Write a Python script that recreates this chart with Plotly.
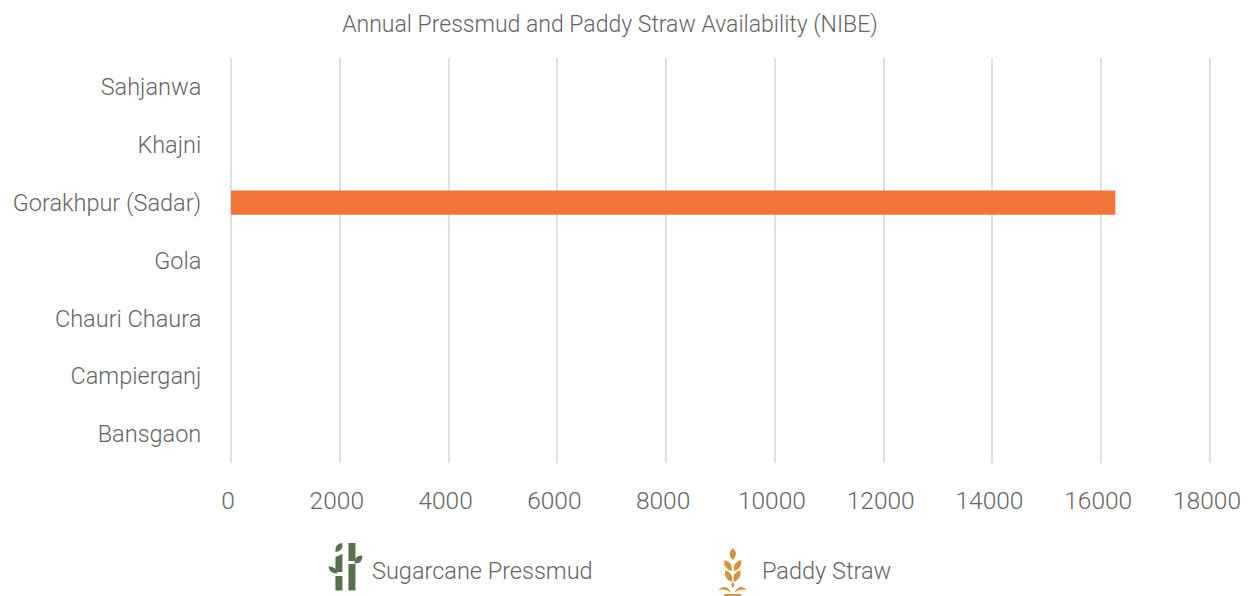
import plotly.graph_objects as go

# Sub-districts, listed bottom to top along the category axis
blocks = ["Bansgaon", "Campierganj", "Chauri Chaura", "Gola",
          "Gorakhpur (Sadar)", "Khajni", "Sahjanwa"]
pressmud = [0, 0, 0, 0, 0, 0, 0]
paddy_straw = [0, 0, 0, 0, 16260, 0, 0]
x_ticks = [0, 2000, 4000, 6000, 8000, 10000, 12000, 14000, 16000, 18000]

title_text = "Annual Pressmud and Paddy Straw Availability (NIBE)"
legend_names = ["Sugarcane Pressmud", "Paddy Straw"]

WIDTH, HEIGHT = 1250, 596
GREY = "#666666"
GRID = "#e0e0e0"
GREEN = "#56724a"
ORANGE = "#f1743a"
WHEAT = "#d8913f"
FONT = dict(family="Roboto", size=23.5, color=GREY, weight=300)
TITLE_FONT = dict(family="Roboto", size=23, color=GREY, weight=300)
X_FONT = dict(family="Roboto", size=24.5, color=GREY, weight=300)

# Plot area in page pixels
LEFT, RIGHT = 230.5, 1210
TOP, BOTTOM = 58, 463


def px(x):
    return (x - LEFT) / (RIGHT - LEFT)


def py(y):
    return (BOTTOM - y) / (BOTTOM - TOP)


def icon(path_points, color):
    """Closed SVG path from (command, x, y, ...) tuples given in page pixels."""
    parts = []
    for seg in path_points:
        cmd, coords = seg[0], seg[1:]
        pairs = [f"{px(coords[i]):.5f},{py(coords[i + 1]):.5f}"
                 for i in range(0, len(coords), 2)]
        parts.append(cmd + " ".join(pairs))
    return dict(type="path", xref="paper", yref="paper", layer="above",
                path=" ".join(parts) + " Z", fillcolor=color, line_width=0)


def poly(*pts):
    return [("M", *pts[0])] + [("L", *p) for p in pts[1:]]


def rect(x0, y0, x1, y1):
    return poly((x0, y0), (x1, y0), (x1, y1), (x0, y1))


def grain(x0, y0, x1, y1, bulge):
    """Pointed leaf shape running from (x0, y0) to (x1, y1); bulge is its half width."""
    dx, dy = x1 - x0, y1 - y0
    nx, ny = -dy, dx
    ln = (nx * nx + ny * ny) ** 0.5
    nx, ny = nx / ln * bulge * 2, ny / ln * bulge * 2
    mx, my = (x0 + x1) / 2, (y0 + y1) / 2
    return [("M", x0, y0),
            ("Q", mx + nx, my + ny, x1, y1),
            ("Q", mx - nx, my - ny, x0, y0)]


bamboo = [
    grain(335, 552, 342, 543, 3),
    poly((335, 557), (342, 554), (342, 572), (335, 572)),
    rect(335, 576, 342, 590.5),
    rect(348, 543, 355, 561),
    rect(348, 564, 355, 590.5),
    grain(328, 566.5, 337, 573.5, 2.5),
    grain(362, 555.5, 354, 563.5, 3),
]

wheat = [
    grain(732.5, 548, 732.5, 560, 3.2),
    grain(724, 560, 731.5, 571, 3),
    grain(741, 560, 733.5, 571, 3),
    grain(725, 570, 731.5, 582, 3),
    grain(740, 570, 733.5, 582, 3),
    [("M", 718, 590), ("Q", 726, 583, 731, 593), ("Q", 726, 588, 718, 590)],
    [("M", 747, 590), ("Q", 739, 583, 734, 593), ("Q", 739, 588, 747, 590)],
    grain(732.5, 582, 732.5, 588, 1.4),
    rect(724, 594, 741, 596),
]

shapes = [icon(p, GREEN) for p in bamboo] + [icon(p, WHEAT) for p in wheat]

# Gridlines on the two ends of the value axis
for edge in (0, 1):
    shapes.append(dict(type="line", xref="paper", yref="paper", layer="below",
                       x0=edge, x1=edge, y0=0, y1=1,
                       line=dict(color=GRID, width=2)))

fig = go.Figure()
fig.add_bar(y=blocks, x=pressmud, orientation="h", name=legend_names[0],
            marker=dict(color=GREEN, line_width=0), width=0.416)
fig.add_bar(y=blocks, x=paddy_straw, orientation="h", name=legend_names[1],
            marker=dict(color=ORANGE, line_width=0), width=0.416)

fig.update_layout(
    width=WIDTH, height=HEIGHT,
    margin=dict(l=LEFT, r=WIDTH - RIGHT, t=TOP, b=HEIGHT - BOTTOM, pad=0),
    paper_bgcolor="white", plot_bgcolor="white",
    barmode="overlay", showlegend=False, font=FONT,
    title=dict(text=title_text, font=TITLE_FONT, x=610 / WIDTH, xanchor="center",
               xref="container", y=1 - 24 / HEIGHT, yanchor="middle"),
    xaxis=dict(range=[0, 18000], tickvals=x_ticks, tickfont=X_FONT,
               tickformat="d", ticklabelshift=-3, automargin=False,
               showgrid=True, gridcolor=GRID, gridwidth=2,
               zeroline=False, showline=False,
               ticks="outside", ticklen=16, tickcolor="rgba(0,0,0,0)"),
    yaxis=dict(categoryorder="array", categoryarray=blocks, tickfont=FONT,
               showgrid=False, zeroline=False, showline=False, automargin=False,
               ticks="outside", ticklen=24, tickcolor="rgba(0,0,0,0)"),
    shapes=shapes,
    annotations=[
        dict(text=legend_names[0], xref="paper", yref="paper", x=px(372), y=py(571),
             xanchor="left", yanchor="middle", showarrow=False, font=FONT, xshift=-2),
        dict(text=legend_names[1], xref="paper", yref="paper", x=px(762), y=py(571),
             xanchor="left", yanchor="middle", showarrow=False, font=FONT, xshift=-2),
    ],
)

fig.write_html("out.html")
